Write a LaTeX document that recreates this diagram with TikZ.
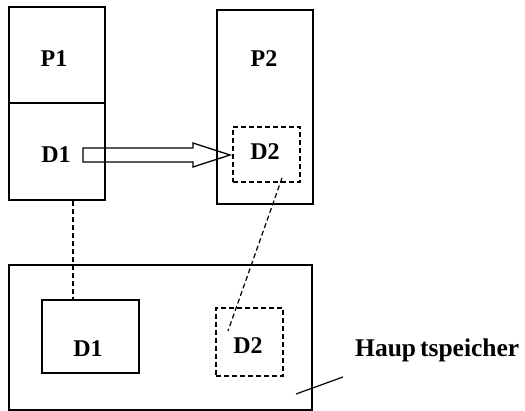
\documentclass[tikz,border=0pt]{standalone}
\usepackage{fontspec}
\setmainfont{Liberation Serif}
\begin{document}
\begin{tikzpicture}[x=1pt,y=-1pt,
  box/.style={draw,line width=1.4pt,inner sep=0pt,rectangle},
  dbox/.style={box,dash pattern=on 5pt off 3pt,line width=1.2pt},
  lbl/.style={font=\fontsize{24}{26}\selectfont\bfseries,inner sep=0pt},
  conn/.style={line width=1.2pt,dash pattern=on 5pt off 3pt}]
\useasboundingbox (0,0) rectangle (525,411);
% top left process
\node[box,minimum width=96pt,minimum height=96pt] (P1) at (57,55) {};
\node[box,minimum width=96pt,minimum height=97pt] (D1) at (57,151.5) {};
\node[lbl] (tP1) at (54,59) {P1};
\node[lbl] (tD1) at (56,155) {D1};
% top right process
\node[box,minimum width=96pt,minimum height=194pt] (P2) at (265,107) {};
\node[dbox,minimum width=67pt,minimum height=55pt] (D2) at (266.5,154.5) {};
\node[lbl] (tP2) at (264,59) {P2};
\node[lbl] (tD2) at (265,152) {D2};
% main memory
\node[box,minimum width=303pt,minimum height=145pt] (M) at (160.5,337.5) {};
\node[box,minimum width=97pt,minimum height=73pt] (MD1) at (90.5,336.5) {};
\node[dbox,minimum width=67pt,minimum height=68pt] (MD2) at (249.5,342) {};
\node[lbl] (tMD1) at (88,349) {D1};
\node[lbl] (tMD2) at (248,346) {D2};
\node[lbl,font=\fontsize{25.5}{27}\selectfont\bfseries,anchor=base west] (H) at (355,357) {Haup\kern4pt tspeicher};
% hollow arrow
\draw[line width=1.3pt] (83,148) -- (193,148) -- (193,143) -- (230,155) -- (193,167) -- (193,162) -- (83,162) -- cycle;
% dashed connectors
\draw[conn] (D1.south -| 73,0) -- (MD1.north -| 73,0);
\coordinate (c1) at (282,178);
\coordinate (c2) at (228,331);
\draw[conn] (c1) -- (c2);
\coordinate (h1) at (296,394);
\draw[line width=1.2pt] (h1) -- (343,377);
\end{tikzpicture}
\end{document}
